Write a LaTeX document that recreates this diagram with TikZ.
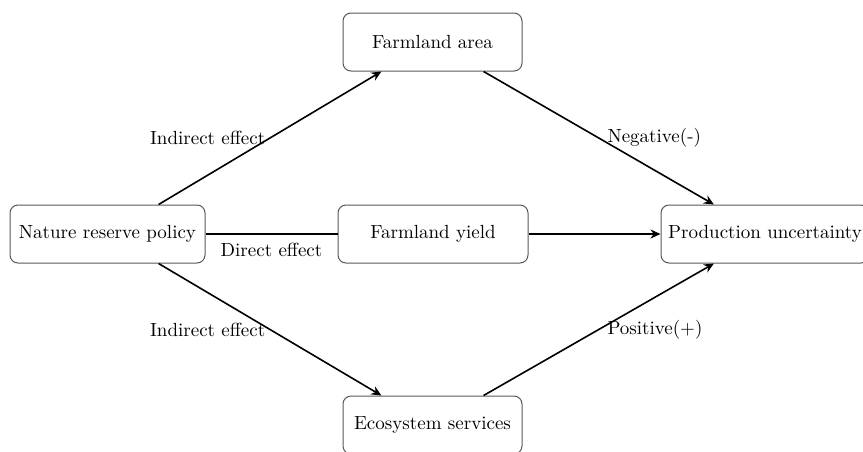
\documentclass[tikz,border=0pt]{standalone}
\usetikzlibrary{arrows.meta}
\begin{document}
\begin{tikzpicture}[x=0.5pt,y=-0.5pt,
  box/.style={draw=black!65,line width=0.5pt,rounded corners=4pt,fill=white,
    minimum height=29pt,inner sep=2pt,font=\fontsize{9.5}{11}\selectfont},
  conn/.style={line width=0.8pt,-{Stealth[length=5pt,width=4.5pt]}},
  plain/.style={line width=0.8pt},
  lab/.style={font=\fontsize{9.5}{11}\selectfont,inner sep=2pt}]
\useasboundingbox (0,0) rectangle (863,451);
\node[box,minimum width=97.5pt] (nrp) at (107.5,234) {Nature reserve policy};
\node[box,minimum width=95pt] (fy) at (433,234) {Farmland yield};
\node[box,minimum width=89.5pt] (fa) at (432.5,42) {Farmland area};
\node[box,minimum width=89.5pt] (es) at (432.5,425) {Ecosystem services};
\node[box,minimum width=104pt] (pu) at (765,234) {Production uncertainty};
\draw[conn] (nrp.30) -- node[lab,midway,anchor=east] {Indirect effect} (fa.210);
\draw[conn] (fa.330) -- node[lab,midway,anchor=west,xshift=2pt] {Negative(-)} (pu.150);
\draw[plain] (nrp) -- node[lab,midway,below,yshift=-2pt] {Direct effect} (fy);
\draw[conn] (fy) -- (pu);
\draw[conn] (nrp.-30) -- node[lab,midway,anchor=east] {Indirect effect} (es.150);
\draw[conn] (es.30) -- node[lab,midway,anchor=west,xshift=2pt] {Positive(+)} (pu.210);
\end{tikzpicture}
\end{document}
